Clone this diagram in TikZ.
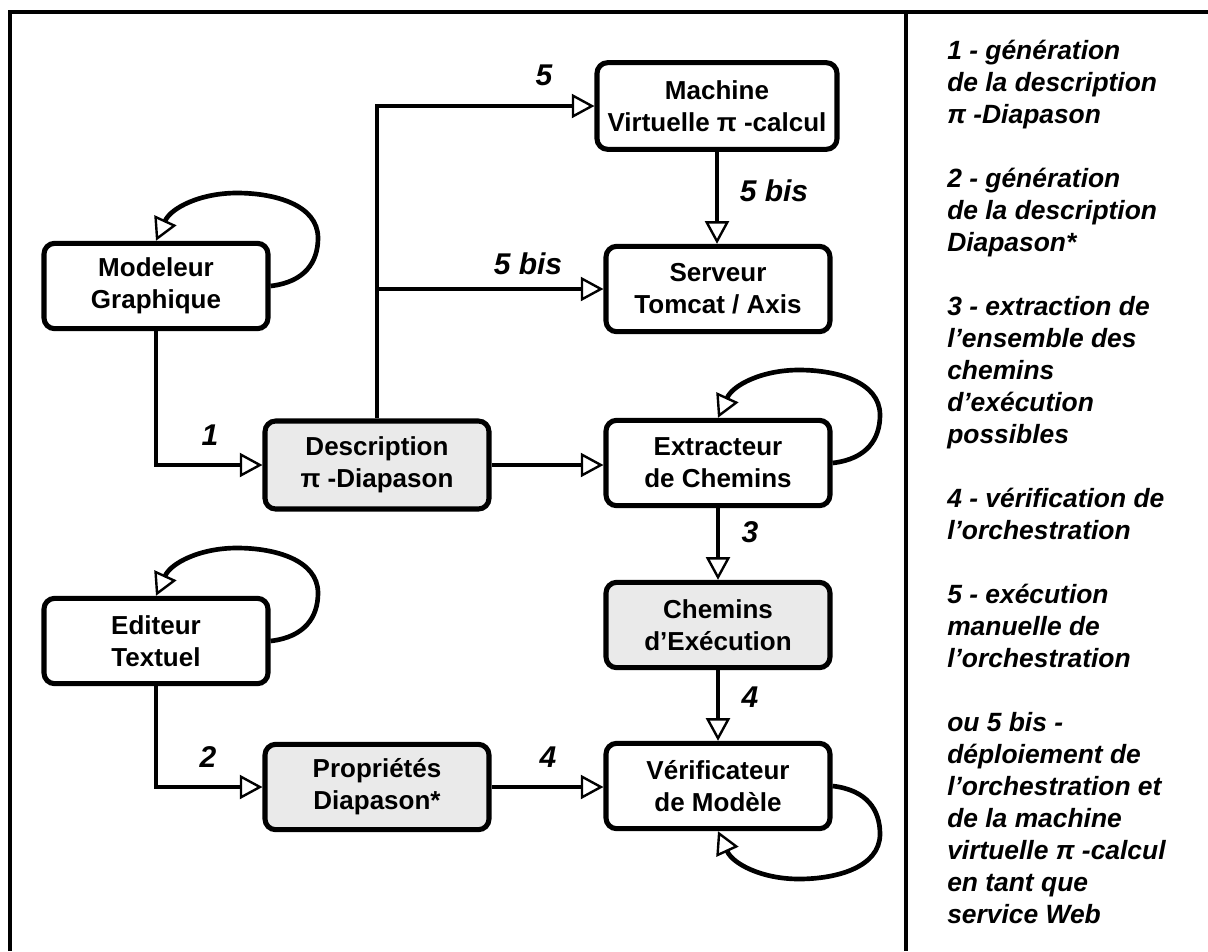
\documentclass[tikz,border=0pt]{standalone}
\usepackage{fontspec}
\setmainfont{Liberation Sans}
\usetikzlibrary{arrows.meta}
\definecolor{boxgray}{HTML}{EAEAEA}
\begin{document}
\begin{tikzpicture}[x=0.75pt,y=-0.75pt,
  box/.style={draw, line width=3.8pt, rounded corners=8pt, minimum width=168pt,
    minimum height=64pt, inner sep=0pt, align=center, fill=white,
    font=\fontsize{19.5}{24}\selectfont\bfseries},
  shaded/.style={box, fill=boxgray},
  conn/.style={line width=3.5pt,
    -{Triangle[length=17pt,width=18pt,line width=1.8pt,fill=white]}},
  num/.style={inner sep=0pt, font=\fontsize{22.5}{27}\selectfont\bfseries\itshape},
  legend/.style={anchor=base west, inner sep=0pt,
    font=\fontsize{19.8}{24}\selectfont\bfseries\itshape},
  frame/.style={line width=2.4pt}]

\useasboundingbox (0,0) rectangle (1208,951);

% outer frame and divider
\draw[frame] (10,951) -- (10,12) -- (1208,12);
\draw[line width=3.2pt] (906,12) -- (906,951);

% tools and artefacts
\node[box] (mod) at (156,286) {Modeleur\\Graphique};
\node[box] (edit) at (156,641) {Editeur\\Textuel};
\node[shaded, minimum height=66pt] (desc) at (377,465) {Description\\π -Diapason};
\node[shaded] (prop) at (377,787) {Propriétés\\Diapason*};
\node[box, minimum width=180pt, minimum height=65pt] (mach) at (717,106) {Machine\\Virtuelle π -calcul};
\node[box] (serv) at (718,289) {Serveur\\Tomcat / Axis};
\node[box] (extr) at (718,463) {Extracteur\\de Chemins};
\node[shaded] (chem) at (718,625) {Chemins\\d’Exécution};
\node[box] (verif) at (718,786) {Vérificateur\\de Modèle};

% flows
\draw[conn] (mod.south) |- (desc.west);
\draw[conn] (edit.south) |- (prop.west);
\draw[conn] (desc.north) |- (mach.west);
\draw[conn] (desc.north |- serv.west) -- (serv.west);
\draw[conn] (mach.south) -- (mach.south |- serv.north);
\draw[conn] (desc.east) -- (desc.east -| extr.west);
\draw[conn] (extr.south) -- (chem.north);
\draw[conn] (chem.south) -- (verif.north);
\draw[conn] (prop.east) -- (prop.east -| verif.west);

% self loops
\draw[conn] (mod.east) .. controls (305,282) and (318,262) .. (318,238)
  .. controls (318,205) and (275,193) .. (237,193)
  .. controls (200,193) and (171,208) .. (mod.north);
\draw[conn] (edit.east) .. controls (305,637) and (318,617) .. (318,593)
  .. controls (318,560) and (275,548) .. (237,548)
  .. controls (200,548) and (171,563) .. (edit.north);
\draw[conn] (extr.east) .. controls (867,459) and (880,439) .. (880,415)
  .. controls (880,382) and (837,370) .. (799,370)
  .. controls (762,370) and (733,385) .. (extr.north);
\draw[conn] (verif.east) .. controls (867,790) and (880,810) .. (880,834)
  .. controls (880,867) and (837,879) .. (799,879)
  .. controls (762,879) and (733,864) .. (verif.south);

% step numbers
\node[num] (n1) at (210,435) {1};
\node[num] (n2) at (208,757) {2};
\node[num] (n4b) at (548,757) {4};
\node[num] (n3) at (750,532) {3};
\node[num] (n4a) at (750,697) {4};
\node[num] (n5) at (544,75) {5};
\node[num] (n5a) at (774,191) {5 bis};
\node[num] (n5b) at (528,264) {5 bis};

% legend
\foreach \i/\t in {0/1 - génération, 1/de la description, 2/π -Diapason,
  4/2 - génération, 5/de la description, 6/Diapason*,
  8/3 - extraction de, 9/l’ensemble des, 10/chemins, 11/d’exécution, 12/possibles,
  14/4 - vérification de, 15/l’orchestration,
  17/5 - exécution, 18/manuelle de, 19/l’orchestration,
  21/ou 5 bis -, 22/déploiement de, 23/l’orchestration et, 24/de la machine,
  25/virtuelle π -calcul, 26/en tant que, 27/service Web}
  \node[legend] (leg\i) at (947,{59+32*\i}) {\t};
\end{tikzpicture}
\end{document}
